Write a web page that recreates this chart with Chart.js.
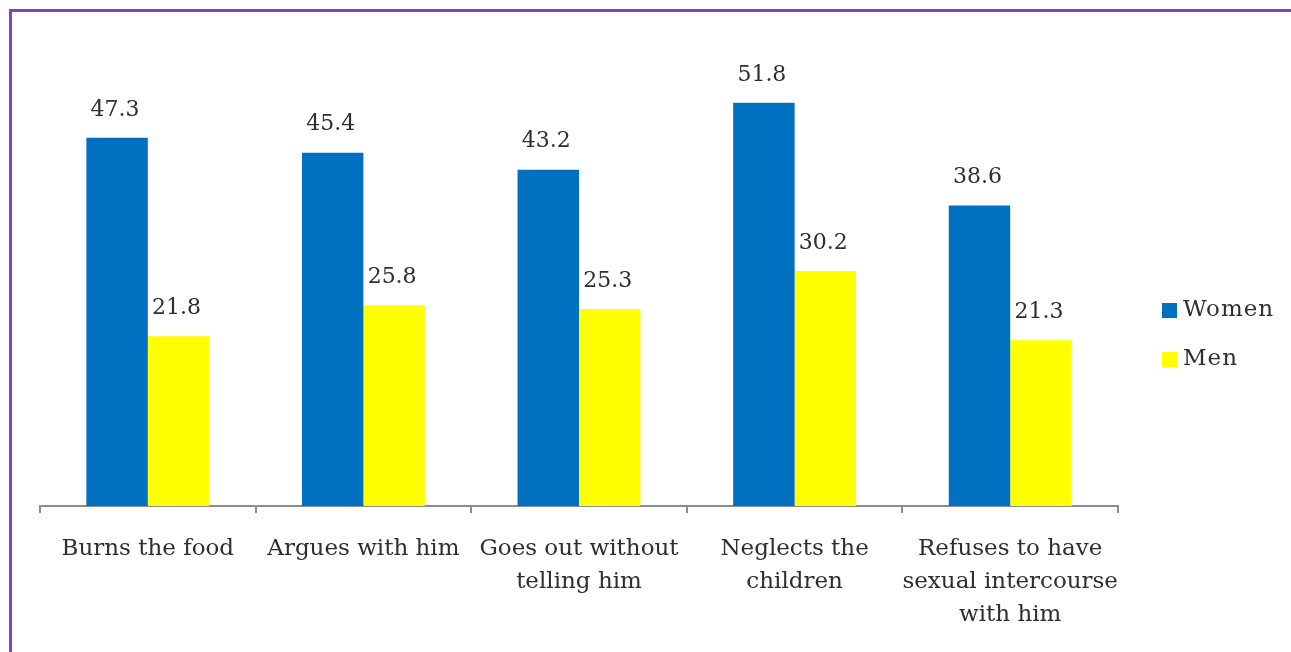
<!DOCTYPE html>
<html>
<head>
<meta charset="utf-8">
<script src="https://cdn.jsdelivr.net/npm/chart.js@4.4.1/dist/chart.umd.min.js"></script>
<style>
  html, body { margin: 0; padding: 0; background: #fff; overflow: hidden; }
  #frame {
    position: absolute; left: 9px; top: 9px; width: 1282px; height: 643px;
    border-top: 3px solid #7f44b8; border-left: 3px solid #7f44b8; box-sizing: border-box;
  }
  #g1 { position: absolute; left: 0; top: 0; }
</style>
</head>
<body>
<div id="frame"></div>
<canvas id="g1" width="1291" height="652"></canvas>
<script>
var categories = [
    ["Burns the food"],
    ["Argues with him"],
    ["Goes out without", "telling him"],
    ["Neglects the", "children"],
    ["Refuses to have", "sexual intercourse", "with him"]
];
var women = [47.3, 45.4, 43.2, 51.8, 38.6];
var men = [21.8, 25.8, 25.3, 30.2, 21.3];
var seriesNames = ["Women", "Men"];
var seriesColors = ["#0070c0", "#ffff00"];

var textFont = '"DejaVu Serif", serif';
var textColor = '#2e2e2e';

// numbers above each bar
var valueLabels = {
    id: 'valueLabels',
    afterDatasetsDraw: function (chart) {
        var ctx = chart.ctx;
        ctx.save();
        ctx.font = '22px ' + textFont;
        ctx.fillStyle = textColor;
        ctx.textAlign = 'center';
        ctx.textBaseline = 'middle';
        chart.data.datasets.forEach(function (ds, i) {
            chart.getDatasetMeta(i).data.forEach(function (bar, j) {
                ctx.fillText(ds.data[j].toFixed(1), bar.x - 2, bar.y - 28);
            });
        });
        ctx.restore();
    }
};

// legend on the right, square swatches
var sideLegend = {
    id: 'sideLegend',
    afterDraw: function (chart) {
        var ctx = chart.ctx;
        var x = chart.chartArea.right + 44;
        var y = 310;
        ctx.save();
        ctx.font = '23px ' + textFont;
        ctx.textBaseline = 'middle';
        ctx.textAlign = 'left';
        if ('letterSpacing' in ctx) ctx.letterSpacing = '1px';
        chart.data.datasets.forEach(function (ds) {
            ctx.fillStyle = ds.backgroundColor;
            ctx.fillRect(x, y - 7, 15, 15);
            ctx.fillStyle = textColor;
            ctx.fillText(ds.label, x + 21, y);
            y += 49;
        });
        ctx.restore();
    }
};

var data1 = {
    labels: categories,
    datasets: [
        { label: seriesNames[0], data: women, backgroundColor: seriesColors[0] },
        { label: seriesNames[1], data: men, backgroundColor: seriesColors[1] }
    ]
};

new Chart(document.getElementById('g1'), {
    type: 'bar',
    data: data1,
    plugins: [valueLabels, sideLegend],
    options: {
        responsive: false,
        animation: false,
        layout: { padding: { left: 40, right: 173, top: 39, bottom: 0 } },
        datasets: { bar: { categoryPercentage: 0.57, barPercentage: 1.0 } },
        plugins: {
            legend: { display: false },
            tooltip: { enabled: false }
        },
        scales: {
            x: {
                grid: {
                    offset: true,
                    drawOnChartArea: false,
                    drawTicks: true,
                    tickLength: 7,
                    color: '#8c8c8c',
                    lineWidth: 2
                },
                border: { display: true, color: '#8c8c8c', width: 2 },
                ticks: {
                    autoSkip: false,
                    maxRotation: 0,
                    minRotation: 0,
                    padding: 20,
                    color: textColor,
                    font: { family: textFont, size: 23, lineHeight: 1.42 }
                },
                afterFit: function (scale) { scale.height = 146; }
            },
            y: {
                display: false,
                min: 0,
                max: 60
            }
        }
    }
});
</script>
</body>
</html>
